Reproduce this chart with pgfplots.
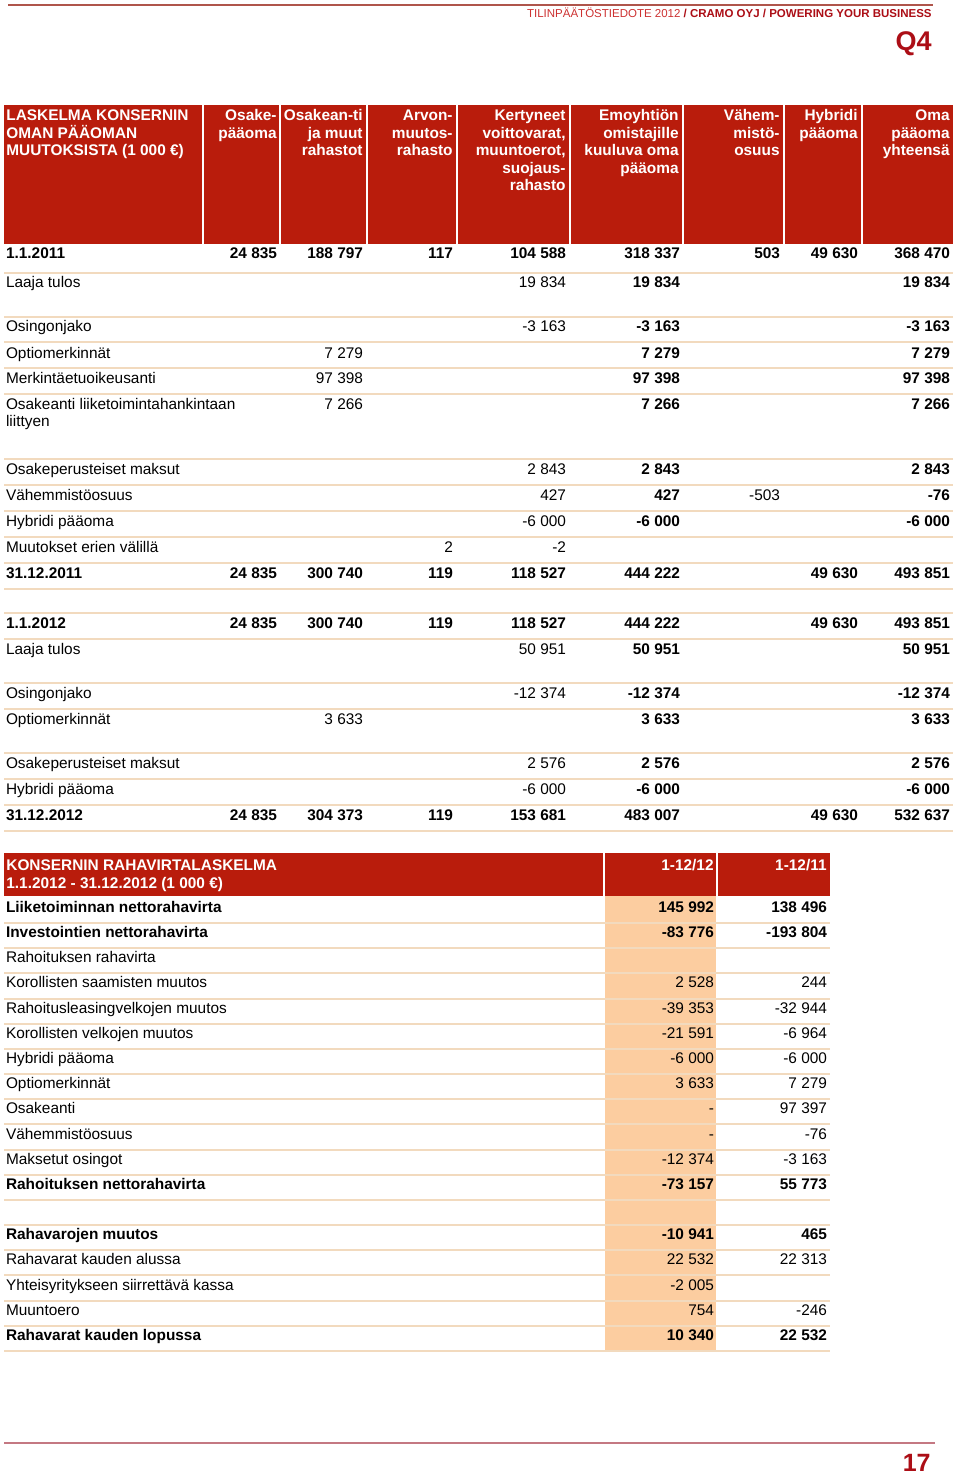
\documentclass[border=0pt]{standalone}
\usepackage{fontspec}
\setmainfont{Liberation Sans}
\usepackage{pgfplots}
\usepackage{pgfplotstable}
\pgfplotsset{compat=1.18}
\definecolor{hdr}{RGB}{185,28,12}
\definecolor{peach}{RGB}{252,205,160}
\definecolor{sepc}{RGB}{242,218,190}
\definecolor{rA}{RGB}{205,50,50}
\definecolor{rB}{RGB}{172,14,22}
\definecolor{topline}{RGB}{175,85,75}
\definecolor{botline}{RGB}{196,120,130}
\newcommand{\bodyfont}{\fontsize{7.7pt}{9pt}\selectfont}

% ---------- numbers, regular ----------
\pgfplotstableread[col sep=semicolon]{
x;y;v
566;288;19 834
566;332;-3 163
363;358;7 279
363;383;97 398
363;409;7 266
566;474;2 843
566;500;427
780;500;-503
566;526;-6 000
453;552;2
566;552;-2
566;654;50 951
566;698;-12 374
363;724;3 633
566;768;2 576
566;794;-6 000
714;987;2 528
827;987;244
714;1013;-39 353
827;1013;-32 944
714;1038;-21 591
827;1038;-6 964
714;1063;-6 000
827;1063;-6 000
714;1088;3 633
827;1088;7 279
714;1113;-
827;1113;97 397
714;1139;-
827;1139;-76
714;1164;-12 374
827;1164;-3 163
714;1264;22 532
827;1264;22 313
714;1290;-2 005
714;1315;754
827;1315;-246
}\numReg

% ---------- numbers, bold ----------
\pgfplotstableread[col sep=semicolon]{
x;y;v
277;259;24 835
363;259;188 797
453;259;117
566;259;104 588
680;259;318 337
780;259;503
858;259;49 630
950;259;368 470
680;288;19 834
950;288;19 834
680;332;-3 163
950;332;-3 163
680;358;7 279
950;358;7 279
680;383;97 398
950;383;97 398
680;409;7 266
950;409;7 266
680;474;2 843
950;474;2 843
680;500;427
950;500;-76
680;526;-6 000
950;526;-6 000
277;578;24 835
363;578;300 740
453;578;119
566;578;118 527
680;578;444 222
858;578;49 630
950;578;493 851
277;628;24 835
363;628;300 740
453;628;119
566;628;118 527
680;628;444 222
858;628;49 630
950;628;493 851
680;654;50 951
950;654;50 951
680;698;-12 374
950;698;-12 374
680;724;3 633
950;724;3 633
680;768;2 576
950;768;2 576
680;794;-6 000
950;794;-6 000
277;820;24 835
363;820;304 373
453;820;119
566;820;153 681
680;820;483 007
858;820;49 630
950;820;532 637
714;912;145 992
827;912;138 496
714;937;-83 776
827;937;-193 804
714;1189;-73 157
827;1189;55 773
714;1239;-10 941
827;1239;465
714;1340;10 340
827;1340;22 532
}\numBold

% ---------- row labels, regular ----------
\pgfplotstableread[col sep=semicolon]{
x;y;v
6;288;Laaja tulos
6;332;Osingonjako
6;358;Optiomerkinnät
6;383;Merkintäetuoikeusanti
6;409;Osakeanti liiketoimintahankintaan
6;426;liittyen
6;474;Osakeperusteiset maksut
6;500;Vähemmistöosuus
6;526;Hybridi pääoma
6;552;Muutokset erien välillä
6;654;Laaja tulos
6;698;Osingonjako
6;724;Optiomerkinnät
6;768;Osakeperusteiset maksut
6;794;Hybridi pääoma
6;962;Rahoituksen rahavirta
6;987;Korollisten saamisten muutos
6;1013;Rahoitusleasingvelkojen muutos
6;1038;Korollisten velkojen muutos
6;1063;Hybridi pääoma
6;1088;Optiomerkinnät
6;1113;Osakeanti
6;1139;Vähemmistöosuus
6;1164;Maksetut osingot
6;1264;Rahavarat kauden alussa
6;1290;Yhteisyritykseen siirrettävä kassa
6;1315;Muuntoero
}\labReg

% ---------- row labels, bold ----------
\pgfplotstableread[col sep=semicolon]{
x;y;v
6;259;1.1.2011
6;578;31.12.2011
6;628;1.1.2012
6;820;31.12.2012
6;912;Liiketoiminnan nettorahavirta
6;937;Investointien nettorahavirta
6;1189;Rahoituksen nettorahavirta
6;1239;Rahavarojen muutos
6;1340;Rahavarat kauden lopussa
}\labBold

\pgfplotsset{
  cellbase/.style={only marks, mark=none, point meta=explicit symbolic,
    every node near coord/.append style={inner sep=0pt, outer sep=0pt, text=black, yshift=-0.5pt}},
  numR/.style={cellbase, nodes near coords={\smash{\makebox[0pt][r]{\pgfplotspointmeta}}},
    every node near coord/.append style={font=\bodyfont}},
  numB/.style={cellbase, nodes near coords={\smash{\makebox[0pt][r]{\pgfplotspointmeta}}},
    every node near coord/.append style={font=\bodyfont\bfseries}},
  labR/.style={cellbase, nodes near coords={\smash{\makebox[0pt][l]{\pgfplotspointmeta}}},
    every node near coord/.append style={font=\bodyfont}},
  labB/.style={cellbase, nodes near coords={\smash{\makebox[0pt][l]{\pgfplotspointmeta}}},
    every node near coord/.append style={font=\bodyfont\bfseries}},
}
\newcommand{\hr}[3]{\node[anchor=base east, inner sep=0pt, yshift=-0.5pt, text=white, font=\bodyfont\bfseries] at (axis cs:#1,#2) {#3};}
\newcommand{\hl}[3]{\node[anchor=base west, inner sep=0pt, yshift=-0.5pt, text=white, font=\bodyfont\bfseries] at (axis cs:#1,#2) {#3};}

\begin{document}
\begin{tikzpicture}
\begin{axis}[scale only axis, width=480pt, height=738pt,
  xmin=0, xmax=960, ymin=0, ymax=1476, y dir=reverse,
  hide axis, clip=false]
% background
\fill[white] (axis cs:0,0) rectangle (axis cs:960,1476);
% page header
\draw[topline, line width=1.1pt] (axis cs:8,5) -- (axis cs:933,5);
\node[anchor=base east, inner sep=0pt, font=\fontsize{5.75pt}{7pt}\selectfont] at (axis cs:932,17.5)
  {\textcolor{rA}{TILINPÄÄTÖSTIEDOTE 2012 }\textcolor{rB}{\bfseries / CRAMO OYJ / POWERING YOUR BUSINESS}};
\node[anchor=base east, inner sep=0pt, text=rB, font=\fontsize{13.5pt}{15pt}\selectfont\bfseries] at (axis cs:932,51) {Q4};

% ---------- table 1 header ----------
\fill[hdr] (axis cs:4,105) rectangle (axis cs:201.5,244);
\fill[hdr] (axis cs:203.5,105) rectangle (axis cs:278.5,244);
\fill[hdr] (axis cs:280.5,105) rectangle (axis cs:366,244);
\fill[hdr] (axis cs:368,105) rectangle (axis cs:456,244);
\fill[hdr] (axis cs:458,105) rectangle (axis cs:569,244);
\fill[hdr] (axis cs:571,105) rectangle (axis cs:682,244);
\fill[hdr] (axis cs:684,105) rectangle (axis cs:783,244);
\fill[hdr] (axis cs:785,105) rectangle (axis cs:861,244);
\fill[hdr] (axis cs:863,105) rectangle (axis cs:953,244);
\hl{6}{120}{LASKELMA KONSERNIN}
\hl{6}{137.5}{OMAN PÄÄOMAN}
\hl{6}{155}{MUUTOKSISTA (1 000 €)}
\hr{277}{120}{Osake-}
\hr{277}{137.5}{pääoma}
\hr{363}{120}{Osakean-ti}
\hr{363}{137.5}{ja muut}
\hr{363}{155}{rahastot}
\hr{453}{120}{Arvon-}
\hr{453}{137.5}{muutos-}
\hr{453}{155}{rahasto}
\hr{566}{120}{Kertyneet}
\hr{566}{137.5}{voittovarat,}
\hr{566}{155}{muuntoerot,}
\hr{566}{172.5}{suojaus-}
\hr{566}{190}{rahasto}
\hr{679}{120}{Emoyhtiön}
\hr{679}{137.5}{omistajille}
\hr{679}{155}{kuuluva oma}
\hr{679}{172.5}{pääoma}
\hr{780}{120}{Vähem-}
\hr{780}{137.5}{mistö-}
\hr{780}{155}{osuus}
\hr{858}{120}{Hybridi}
\hr{858}{137.5}{pääoma}
\hr{950}{120}{Oma}
\hr{950}{137.5}{pääoma}
\hr{950}{155}{yhteensä}
% table 1 separators
\pgfplotsinvokeforeach{273,317,342,368,394,459,485,511,537,563,589,613,639,683,709,753,779,805,831}{
  \draw[sepc, line width=1pt] (axis cs:4,#1) -- (axis cs:953,#1);
}

% ---------- table 2 ----------
\fill[peach] (axis cs:605,896) rectangle (axis cs:716,1351);
\fill[hdr] (axis cs:4,853) rectangle (axis cs:603,896);
\fill[hdr] (axis cs:605,853) rectangle (axis cs:716,896);
\fill[hdr] (axis cs:718,853) rectangle (axis cs:830,896);
\hl{6}{869}{KONSERNIN RAHAVIRTALASKELMA}
\hl{6}{887}{1.1.2012 - 31.12.2012 (1 000 €)}
\hr{714}{869}{1-12/12}
\hr{827}{869}{1-12/11}
\pgfplotsinvokeforeach{923,948,973,999,1024,1049,1074,1099,1124,1150,1175,1200,1225,1250,1275,1301,1326,1351}{
  \draw[sepc, line width=1pt] (axis cs:4,#1) -- (axis cs:830,#1);
}

% ---------- cell contents ----------
\addplot[numR] table[x=x, y=y, meta=v] {\numReg};
\addplot[numB] table[x=x, y=y, meta=v] {\numBold};
\addplot[labR] table[x=x, y=y, meta=v] {\labReg};
\addplot[labB] table[x=x, y=y, meta=v] {\labBold};

% footer
\draw[botline, line width=1.2pt] (axis cs:4,1443) -- (axis cs:935,1443);
\node[anchor=base east, inner sep=0pt, text=rB, font=\fontsize{12.5pt}{14pt}\selectfont\bfseries] at (axis cs:931,1471) {17};
\end{axis}
\end{tikzpicture}
\end{document}
